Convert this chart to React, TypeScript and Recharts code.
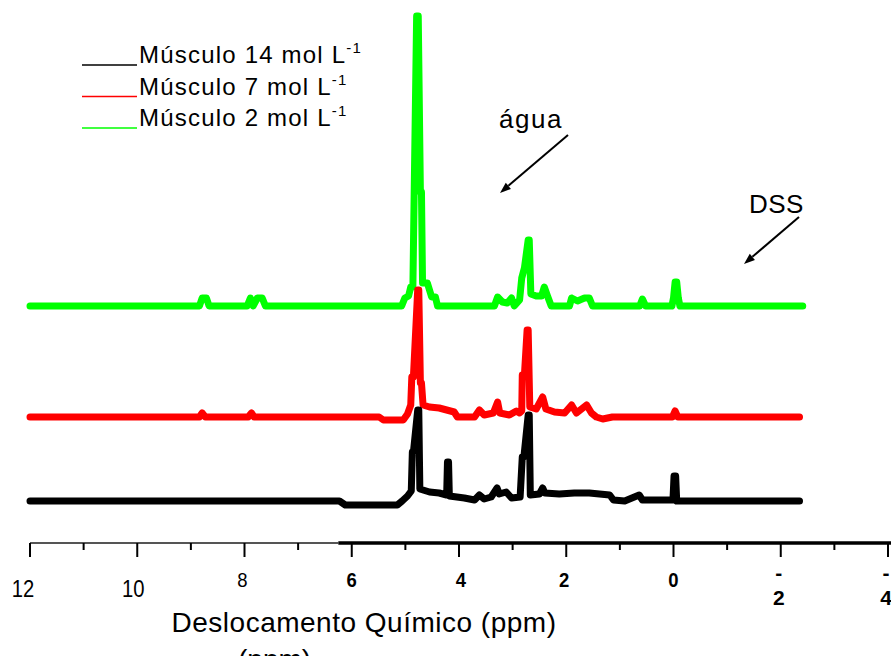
import { Line, LineChart, ReferenceLine, XAxis, YAxis } from "recharts";

// chemical shift (ppm) and intensity above each trace's own baseline
const blackPpm = [12, 6.23, 6.12, 5.15, 5.06, 4.96, 4.89, 4.87, 4.85, 4.77, 4.75, 4.73, 4.55, 4.37, 4.23, 4.215, 4.195, 4.18, 3.9, 3.71, 3.62, 3.53, 3.4, 3.29, 3.25, 3.12, 3.02, 2.86, 2.82, 2.79, 2.71, 2.69, 2.67, 2.5, 2.44, 2.4, 2.13, 1.85, 1.57, 1.38, 1.19, 1.12, 0.91, 0.64, 0.58, 0.01, -0.01, -0.04, -0.06, -2.35];
const blackInt = [0, 0, -4, -4, 0, 5, 10, 49, 49, 91, 91, 12, 9, 8, 6, 39, 39, 5, 3, 1, 6, 2, 4, 13, 7, 9, 3, 4, 44, 44, 86, 86, 6, 7, 13, 8, 7, 8, 8, 7, 6, 1, 0, 6, 1, 1, 25, 25, 0, 0];

const redPpm = [12, 8.84, 8.79, 8.73, 7.93, 7.87, 7.82, 5.49, 5.41, 5.04, 4.96, 4.9, 4.88, 4.85, 4.77, 4.75, 4.72, 4.7, 4.67, 4.55, 4.37, 4.09, 4.03, 3.71, 3.62, 3.53, 3.36, 3.28, 3.24, 3.06, 2.93, 2.87, 2.83, 2.82, 2.78, 2.73, 2.71, 2.68, 2.56, 2.44, 2.38, 2.22, 2.03, 1.9, 1.81, 1.62, 1.53, 1.44, 1.32, 1.14, 0.02, -0.03, -0.08, -2.35];
const redInt = [0, 0, 4, 0, 0, 4, 0, 0, -3, -3, 3, 12, 40, 40, 127, 127, 34, 34, 12, 10, 9, 5, 0, 0, 7, 2, 4, 15, 4, 2, 6, 4, 6, 42, 42, 87, 87, 10, 8, 20, 8, 5, 4, 12, 4, 12, 4, 0, -2, 0, 0, 6, 0, 0];

const greenPpm = [12, 8.84, 8.79, 8.71, 8.66, 7.95, 7.89, 7.84, 7.76, 7.67, 7.61, 5.07, 5.01, 4.94, 4.9, 4.86, 4.79, 4.76, 4.72, 4.7, 4.68, 4.59, 4.51, 4.44, 4.4, 3.34, 3.28, 3.19, 3.1, 3.02, 2.97, 2.87, 2.83, 2.78, 2.71, 2.69, 2.66, 2.56, 2.46, 2.41, 2.35, 2.28, 1.94, 1.9, 1.79, 1.66, 1.57, 1.51, 0.63, 0.58, 0.52, 0.03, 0.0, -0.03, -0.06, -0.09, -0.12, -2.41];
const greenInt = [0, 0, 8, 8, 0, 0, 8, 0, 8, 8, 0, 0, 8, 10, 19, 19, 290, 290, 114, 114, 23, 23, 9, 9, 0, 0, 9, 4, 3, 8, 0, 6, 28, 38, 66, 66, 12, 10, 10, 19, 10, 0, 0, 8, 5, 8, 8, 0, 0, 7, 0, 0, 8, 24, 24, 8, 0, 0];

// vertical offsets of the stacked spectra
const blackOffset = 42;
const redOffset = 126;
const greenOffset = 237;

const xTicks = [12, 11, 10, 9, 8, 7, 6, 5, 4, 3, 2, 1, 0, -1, -2, -3, -4];
const legendLabels = ["Músculo 14 mol L", "Músculo 7 mol L", "Músculo 2 mol L"];
const legendColors = ["#000000", "#ff0000", "#00ff00"];

const FONT = "'Liberation Sans', Arial, sans-serif";

const toSeries = (ppm: number[], vals: number[], offset: number) =>
  ppm.map((p, i) => ({ ppm: p, y: vals[i] + offset }));

const blackData = toSeries(blackPpm, blackInt, blackOffset);
const redData = toSeries(redPpm, redInt, redOffset);
const greenData = toSeries(greenPpm, greenInt, greenOffset);

// label placement quirks of the original export
const tickLook: Record<number, { dx: number; dy: number; bold: boolean; size: number }> = {
  12: { dx: -7, dy: 54, bold: false, size: 23 },
  10: { dx: -4, dy: 54, bold: false, size: 23 },
  8: { dx: -2, dy: 44, bold: false, size: 21 },
  6: { dx: 0, dy: 44, bold: true, size: 21 },
  4: { dx: 2, dy: 44, bold: true, size: 21 },
  2: { dx: -2, dy: 44, bold: true, size: 21 },
  0: { dx: 0, dy: 44, bold: true, size: 21 },
};

function PpmTick({ x, y, payload }: any) {
  const v = payload.value as number;
  const major = v % 2 === 0;
  let label = null;
  if (major && v >= 0) {
    const t = tickLook[v];
    label = (
      <text
        transform={`translate(${x + t.dx},${y + t.dy}) scale(0.88,1)`}
        textAnchor="middle"
        fontFamily={FONT}
        fontSize={t.size}
        fontWeight={t.bold ? "bold" : "normal"}
        fill="#000"
      >
        {v}
      </text>
    );
  } else if (major) {
    label = (
      <g fontFamily={FONT} fontSize={21} fontWeight="bold" fill="#000" textAnchor="middle">
        <text x={x - 2} y={y + 37}>-</text>
        <text x={x - 2} y={y + 62}>{Math.abs(v)}</text>
      </g>
    );
  }
  return (
    <g>
      <line x1={x} x2={x} y1={y} y2={y + (major ? 14 : 7)} stroke="#000" strokeWidth={2} />
      {label}
    </g>
  );
}

function Arrow({ x1, y1, x2, y2 }: { x1: number; y1: number; x2: number; y2: number }) {
  const a = Math.atan2(y2 - y1, x2 - x1);
  const len = 11;
  const w = 4;
  const bx = x2 - len * Math.cos(a);
  const by = y2 - len * Math.sin(a);
  const px = -Math.sin(a) * w;
  const py = Math.cos(a) * w;
  return (
    <g>
      <line x1={x1} y1={y1} x2={bx} y2={by} stroke="#000" strokeWidth={2} />
      <polygon points={`${x2},${y2} ${bx + px},${by + py} ${bx - px},${by - py}`} fill="#000" />
    </g>
  );
}

export default function App() {
  return (
    <div style={{ position: "relative", width: 891, height: 656, background: "#fff", overflow: "hidden" }}>
      <style>{`body{margin:0}`}</style>
      <LineChart width={891} height={656} margin={{ top: 10, right: 3, bottom: 0, left: 30 }}>
        <XAxis
          type="number"
          dataKey="ppm"
          domain={[-4, 12]}
          reversed
          ticks={xTicks}
          interval={0}
          height={113}
          tickSize={0}
          tickMargin={0}
          tickLine={false}
          axisLine={false}
          tick={<PpmTick />}
        />
        <YAxis type="number" domain={[0, 533]} hide />
        <ReferenceLine segment={[{ x: 12, y: 0 }, { x: 6.25, y: 0 }]} stroke="#555" strokeWidth={2} ifOverflow="visible" />
        <ReferenceLine segment={[{ x: 6.25, y: 0 }, { x: -4.06, y: 0 }]} stroke="#000" strokeWidth={3.5} ifOverflow="visible" />
        <Line data={greenData} dataKey="y" type="linear" stroke="#00ff00" strokeWidth={7} strokeLinecap="round" strokeLinejoin="round" dot={false} isAnimationActive={false} />
        <Line data={redData} dataKey="y" type="linear" stroke="#ff0000" strokeWidth={7} strokeLinecap="round" strokeLinejoin="round" dot={false} isAnimationActive={false} />
        <Line data={blackData} dataKey="y" type="linear" stroke="#000000" strokeWidth={7} strokeLinecap="round" strokeLinejoin="round" dot={false} isAnimationActive={false} />
      </LineChart>
      <svg width={891} height={656} style={{ position: "absolute", left: 0, top: 0, pointerEvents: "none" }} fontFamily={FONT}>
        {legendLabels.map((lbl, i) => (
          <g key={lbl}>
            <line x1={82} x2={137} y1={65 + i * 31.5} y2={65 + i * 31.5} stroke={legendColors[i]} strokeWidth={1.5} />
            <text x={139} y={63 + i * 31.5} fontSize={24} letterSpacing={1.2} fill="#000">
              {lbl}
              <tspan fontSize={15} dy={-10}>-1</tspan>
            </text>
          </g>
        ))}
        <text x={499} y={128} fontSize={26} letterSpacing={1.5} fill="#000">água</text>
        <Arrow x1={568} y1={135} x2={500} y2={193} />
        <text x={749} y={213} fontSize={26} letterSpacing={0.5} fill="#000">DSS</text>
        <Arrow x1={799} y1={217} x2={744} y2={264} />
        <text x={364} y={632} fontSize={28} letterSpacing={0.5} textAnchor="middle" fill="#000">Deslocamento Químico (ppm)</text>
        <text x={238} y={669} fontSize={28} fill="#000">(ppm)</text>
      </svg>
    </div>
  );
}
